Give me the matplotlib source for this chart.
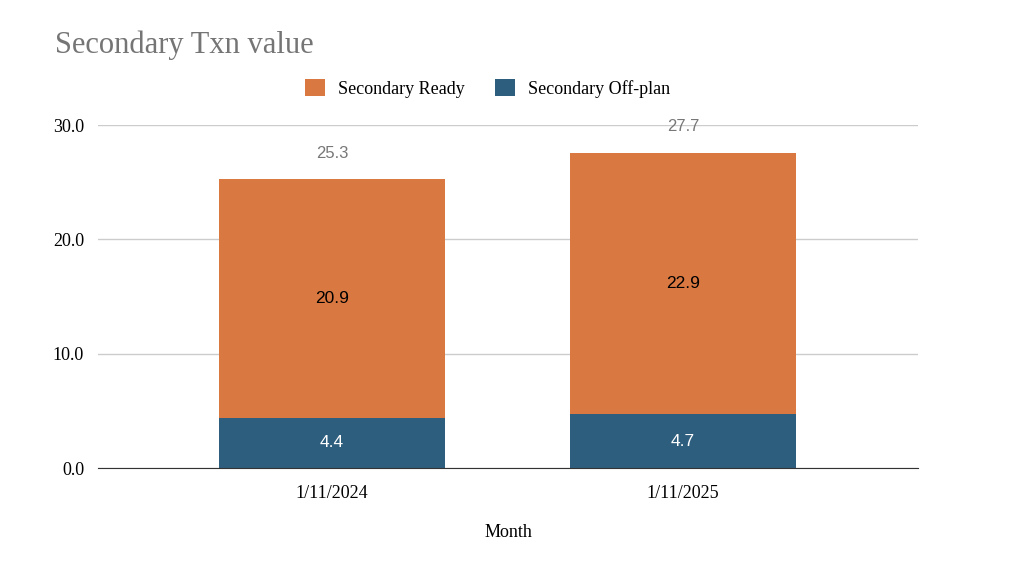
import numpy as np
import matplotlib.pyplot as plt

months = ["1/11/2024", "1/11/2025"]
ready = [20.9, 22.9]
offplan = [4.4, 4.7]
totals = [25.3, 27.7]

orange = "#D97841"
blue = "#2E5E7E"
serif = "Liberation Serif"

fig = plt.figure(figsize=(10.24, 5.64), dpi=100)
ax = fig.add_axes([0.0957, 0.1702, 0.8008, 0.608])

x = np.arange(len(months))
w = 0.644
b1 = ax.bar(x, offplan, w, color=blue, label="Secondary Off-plan", zorder=3)
b2 = ax.bar(x, ready, w, bottom=offplan, color=orange, label="Secondary Ready", zorder=3)

for i in range(len(months)):
    ax.text(x[i], offplan[i] / 2, f"{offplan[i]:.1f}", ha="center", va="center",
            color="white", fontsize=12.5, family="Liberation Sans", zorder=4)
    ax.text(x[i], offplan[i] + ready[i] / 2, f"{ready[i]:.1f}", ha="center", va="center",
            color="black", fontsize=12.5, family="Liberation Sans", zorder=4)
    ax.text(x[i], totals[i] + 2.2, f"{totals[i]:.1f}", ha="center", va="center",
            color="#777777", fontsize=12, family="Liberation Sans", zorder=4, clip_on=False)

ax.set_xlim(-0.667, 1.67)
ax.set_ylim(0, 30)
ax.set_yticks([0, 10, 20, 30])
ax.set_yticklabels([f"{v:.1f}" for v in [0, 10, 20, 30]], family=serif, fontsize=13)
ax.set_xticks(x)
ax.set_xticklabels(months, family=serif, fontsize=13)
ax.tick_params(length=0, pad=10)
ax.tick_params(axis="x", pad=12)
ax.grid(axis="y", color="#cccccc", linewidth=1, zorder=0)
for s in ["top", "right", "left"]:
    ax.spines[s].set_visible(False)
ax.spines["bottom"].set_color("#333333")
ax.spines["bottom"].set_zorder(5)
ax.set_xlabel("Month", family=serif, fontsize=13, labelpad=16)

fig.text(0.054, 0.92, "Secondary Txn value", family=serif, fontsize=22, color="#757575",
         ha="left", va="center")
handles = [b2, b1]
fig.legend(handles, [h.get_label() for h in handles], loc="center", bbox_to_anchor=(0.476, 0.843),
           ncol=2, frameon=False, prop={"family": serif, "size": 13},
           handlelength=1.1, handleheight=1.1, columnspacing=1.7, handletextpad=0.7)

fig.savefig("out.png", dpi=100, facecolor="white")
